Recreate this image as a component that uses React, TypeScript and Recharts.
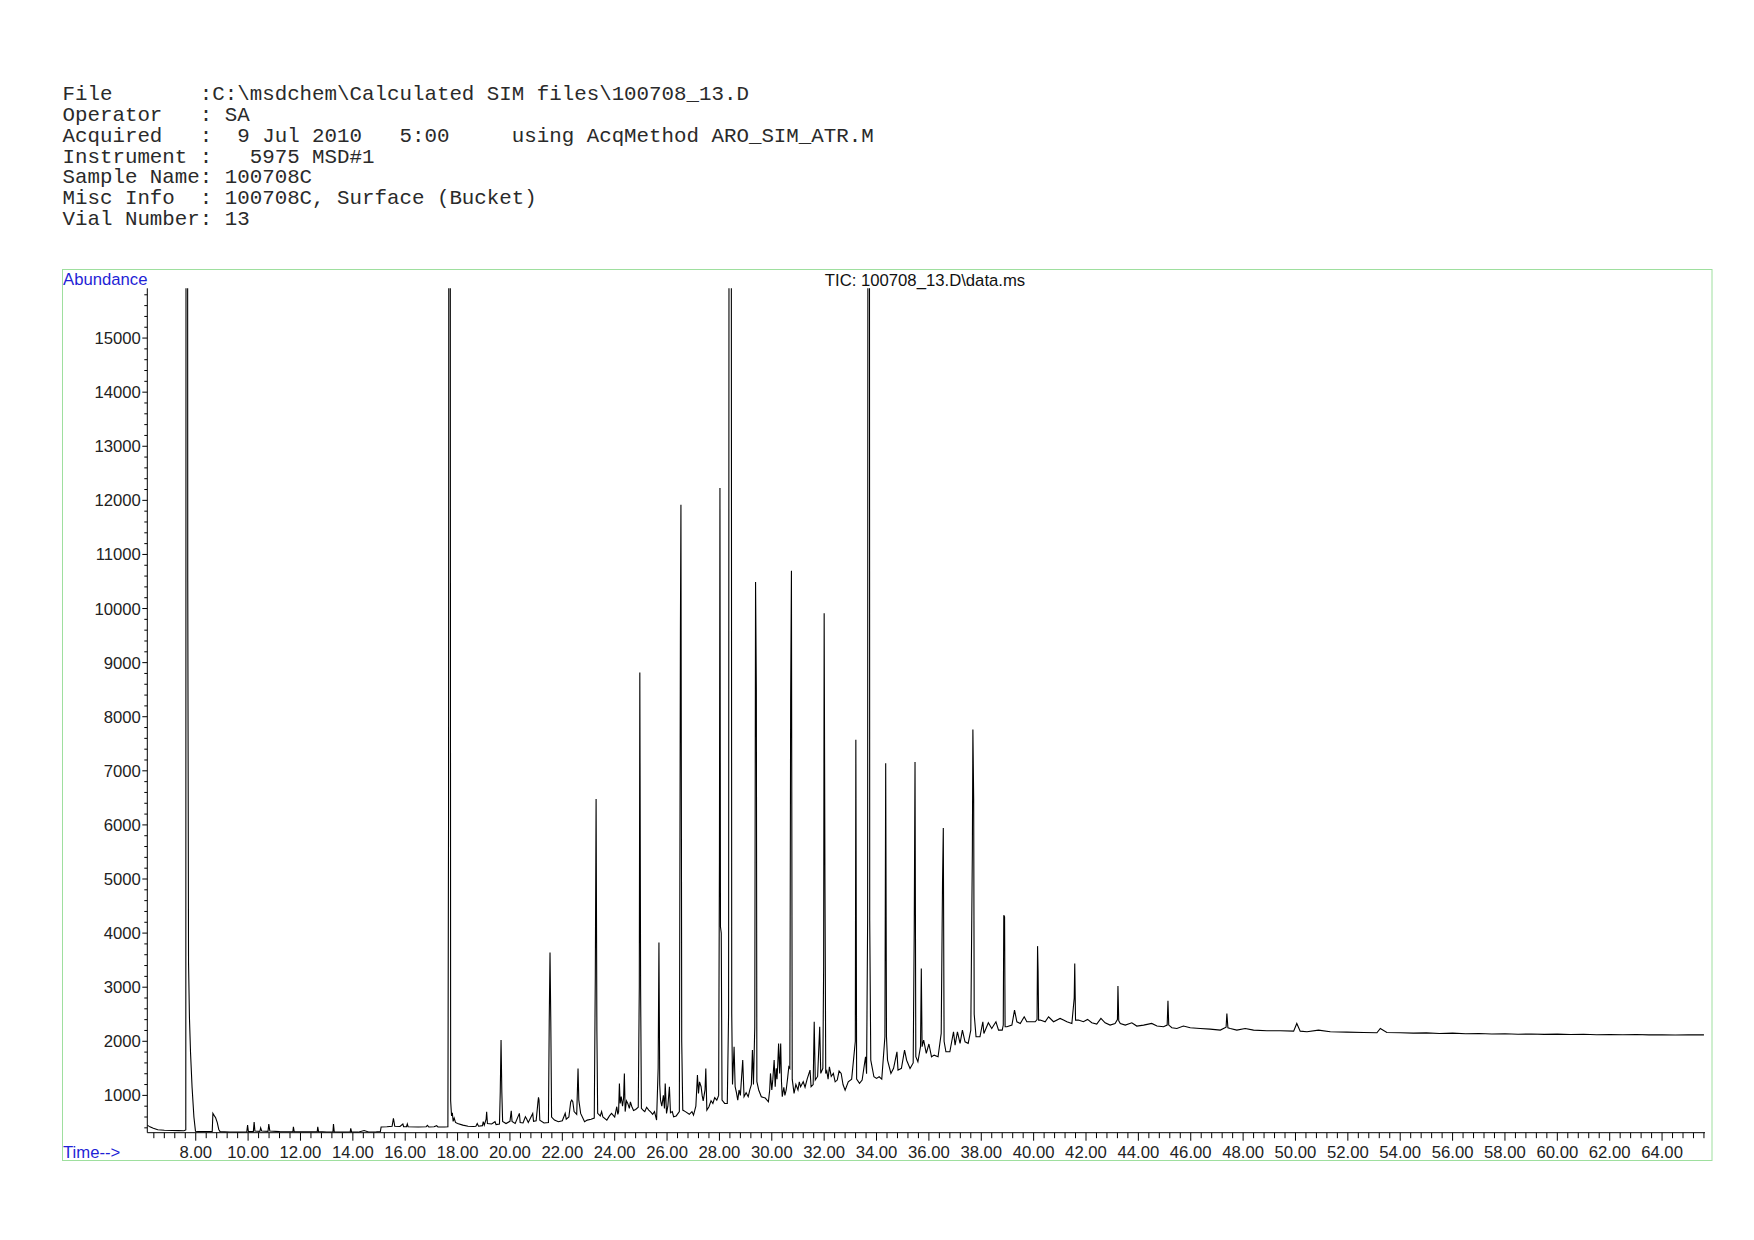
import { LineChart, Line, XAxis, YAxis } from 'recharts'

// header block printed above the chromatogram
const headerLines = [
  'File       :C:\\msdchem\\Calculated SIM files\\100708_13.D',
  'Operator   : SA',
  'Acquired   :  9 Jul 2010   5:00     using AcqMethod ARO_SIM_ATR.M',
  'Instrument :   5975 MSD#1',
  'Sample Name: 100708C',
  'Misc Info  : 100708C, Surface (Bucket)',
  'Vial Number: 13',
]

const chartTitle = 'TIC: 100708_13.D\\data.ms'

// tick labels
const timeLabels = [8, 10, 12, 14, 16, 18, 20, 22, 24, 26, 28, 30, 32, 34, 36, 38, 40, 42, 44, 46, 48, 50, 52, 54, 56, 58, 60, 62, 64]
const abundanceLabels = [1000, 2000, 3000, 4000, 5000, 6000, 7000, 8000, 9000, 10000, 11000, 12000, 13000, 14000, 15000]

// TIC trace, [time (min), abundance] in pieces
const ticSolvent: [number, number][] = [
  [6.15, 450], [6.25, 418], [6.38, 392], [6.55, 365], [6.8, 355], [7.1, 350], [7.35, 348], [7.55, 347],
  [7.62, 360], [7.635, 30000], [7.68, 30000], [7.695, 10500], [7.725, 3450], [7.76, 2430], [7.8, 1800],
  [7.86, 1150], [7.93, 600], [7.99, 335], [8.2, 330], [8.45, 331], [8.63, 334], [8.655, 667], [8.7, 630],
  [8.76, 585], [8.82, 500], [8.88, 370], [8.93, 330], [9.1, 326],
]

const ticEarly: [number, number][] = [
  [9.3, 322], [9.6, 320], [9.95, 325], [9.98, 450], [10.01, 330], [10.2, 330], [10.23, 505], [10.26, 340],
  [10.45, 335], [10.48, 400], [10.52, 340], [10.76, 335], [10.79, 470], [10.83, 340], [11.2, 330], [11.5, 328],
  [11.71, 330], [11.73, 418], [11.76, 330], [12.2, 325], [12.64, 330], [12.66, 418], [12.69, 330], [13.0, 322],
  [13.24, 325], [13.26, 470], [13.29, 325], [13.6, 320], [13.9, 325], [13.92, 390], [13.95, 325], [14.2, 320],
  [14.43, 350], [14.6, 322], [14.9, 325], [15.05, 330], [15.08, 415], [15.3, 420], [15.5, 430], [15.55, 577],
  [15.6, 430], [15.8, 425], [15.91, 470], [15.94, 420], [16.05, 420], [16.08, 470], [16.11, 420], [16.5, 415],
  [16.8, 420], [16.85, 445], [16.9, 415], [17.1, 420], [17.2, 440], [17.25, 418], [17.5, 415], [17.63, 420],
]

const ticMid: [number, number][] = [
  [17.655, 6200], [17.675, 30000], [17.71, 30000], [17.735, 900], [17.77, 620], [17.8, 680], [17.83, 520],
  [17.87, 580], [17.92, 500], [18.0, 480], [18.2, 450], [18.4, 430], [18.6, 425], [18.7, 430], [18.75, 480],
  [18.8, 430], [18.95, 440], [18.98, 513], [19.02, 450], [19.09, 560], [19.11, 697], [19.14, 480], [19.3, 470],
  [19.43, 513], [19.47, 460], [19.6, 470], [19.63, 1067], [19.66, 2022], [19.69, 1060], [19.72, 520],
  [19.85, 480], [20.0, 520], [20.05, 716], [20.08, 520], [20.2, 480], [20.36, 667], [20.39, 500], [20.5, 490],
  [20.59, 605], [20.63, 574], [20.7, 500], [20.87, 667], [20.9, 520], [21.0, 530], [21.07, 880], [21.09, 962],
  [21.11, 913], [21.14, 540], [21.3, 490], [21.47, 500], [21.5, 2361], [21.53, 3642], [21.56, 2360],
  [21.59, 600], [21.7, 543], [21.85, 513], [22.0, 530], [22.11, 667], [22.15, 560], [22.25, 600], [22.32, 880],
  [22.36, 913], [22.4, 882], [22.45, 700], [22.55, 650], [22.6, 1498], [22.63, 913], [22.7, 667], [22.85, 513],
  [22.95, 543], [23.1, 560], [23.22, 580],
]

const ticAromatics1: [number, number][] = [
  [23.26, 3223], [23.29, 6480], [23.32, 2200], [23.35, 667], [23.45, 620], [23.5, 700], [23.55, 600],
  [23.7, 543], [23.8, 620], [23.88, 667], [24.0, 600], [24.05, 720], [24.08, 790], [24.12, 650], [24.15, 700],
  [24.18, 1221], [24.21, 851], [24.25, 980], [24.3, 800], [24.34, 950], [24.37, 1406], [24.4, 700],
  [24.45, 900], [24.5, 851], [24.56, 760], [24.6, 880], [24.65, 800], [24.72, 720], [24.8, 740], [24.9, 780],
  [24.94, 3000], [24.96, 8817], [24.99, 3000], [25.02, 760], [25.1, 720], [25.15, 700], [25.22, 780],
  [25.3, 728], [25.38, 690], [25.45, 650], [25.52, 700], [25.6, 543], [25.66, 1500], [25.69, 3827],
  [25.72, 1200], [25.75, 913], [25.8, 800], [25.86, 1000], [25.9, 760], [25.93, 1221], [25.98, 667],
  [26.03, 800], [26.09, 1160], [26.13, 680], [26.2, 700], [26.25, 605], [26.35, 620], [26.47, 700],
  [26.51, 9600], [26.53, 11918], [26.56, 2000], [26.6, 728], [26.7, 700], [26.85, 650], [26.95, 700],
  [27.01, 636], [27.1, 800], [27.16, 1375], [27.2, 1036], [27.24, 1250], [27.3, 1160], [27.34, 1000],
  [27.38, 900], [27.45, 1100], [27.48, 1498], [27.52, 728], [27.6, 790], [27.68, 900], [27.75, 850],
  [27.82, 960], [27.9, 913], [27.97, 1000], [28.0, 5300], [28.02, 12230], [28.04, 4116], [28.07, 4000],
  [28.1, 913], [28.2, 851], [28.3, 851],
]

const ticAromatics2: [number, number][] = [
  [28.35, 2515], [28.38, 30000], [28.44, 30000], [28.47, 2515], [28.5, 1200], [28.56, 1899], [28.6, 1160],
  [28.65, 1050], [28.7, 913], [28.75, 1100], [28.8, 1000], [28.89, 1652], [28.94, 975], [29.02, 1050],
  [29.1, 975], [29.16, 1100], [29.22, 1200], [29.26, 1837], [29.3, 1200], [29.35, 2268], [29.38, 10490],
  [29.41, 8500], [29.43, 1252], [29.5, 1100], [29.6, 975], [29.75, 950], [29.87, 882], [29.92, 1100],
  [29.95, 1406], [30.0, 1100], [30.04, 1300], [30.09, 1652], [30.13, 1160], [30.17, 1500], [30.2, 1300],
  [30.23, 1600], [30.26, 1960], [30.3, 1406], [30.34, 1960], [30.37, 1250], [30.4, 975], [30.46, 1150],
  [30.5, 1000], [30.55, 1100], [30.6, 1300], [30.65, 1529], [30.69, 1500], [30.72, 8300], [30.75, 10700],
  [30.78, 1300], [30.85, 1036], [30.92, 1200], [31.0, 1100], [31.05, 1250], [31.1, 1160], [31.2, 1252],
  [31.27, 1150], [31.35, 1300], [31.46, 1467], [31.5, 1160], [31.58, 1200], [31.62, 2361], [31.66, 1283],
  [31.75, 1350], [31.83, 2268], [31.87, 1406], [31.95, 1500], [31.98, 3377], [32.0, 9912], [32.03, 5000],
  [32.06, 1406], [32.1, 1450], [32.15, 1300], [32.2, 1529], [32.27, 1350], [32.35, 1406], [32.42, 1250],
  [32.5, 1283], [32.57, 1450], [32.65, 1406], [32.72, 1200], [32.8, 1098], [32.92, 1252], [33.05, 1300],
]

const ticAromatics3: [number, number][] = [
  [33.19, 2000], [33.21, 7576], [33.24, 1300], [33.35, 1221], [33.45, 1283], [33.58, 1714], [33.62, 1400],
  [33.66, 4239], [33.68, 30000], [33.72, 30000], [33.74, 4239], [33.78, 1652], [33.9, 1344], [34.0, 1313],
  [34.1, 1344], [34.2, 1300], [34.32, 2083], [34.35, 7141], [34.38, 2083], [34.42, 1652], [34.55, 1406],
  [34.65, 1500], [34.78, 1806], [34.82, 1467], [34.95, 1500], [35.07, 1837], [35.15, 1650], [35.28, 1498],
  [35.4, 1600], [35.44, 4055], [35.47, 7162], [35.5, 1714], [35.58, 1621], [35.68, 1900], [35.71, 3346],
  [35.74, 1899], [35.8, 2022], [35.9, 1775], [36.0, 1950], [36.1, 1714], [36.2, 1744], [36.35, 1714],
  [36.47, 2145], [36.52, 4917], [36.55, 5942], [36.58, 2000], [36.65, 1806], [36.8, 1806], [36.94, 2176],
  [37.0, 1929], [37.09, 2176], [37.19, 1960], [37.28, 2207], [37.38, 1991], [37.5, 1960], [37.6, 2207],
  [37.66, 5533], [37.68, 7763], [37.71, 6488], [37.73, 2500], [37.8, 2083], [37.95, 2083],
]

const ticLate: [number, number][] = [
  [38.06, 2361], [38.1, 2145], [38.27, 2342], [38.4, 2237], [38.56, 2361], [38.66, 2207], [38.8, 2207],
  [38.84, 2300], [38.86, 4332], [38.89, 4300], [38.91, 2268], [38.98, 2268], [39.17, 2299], [39.27, 2576],
  [39.36, 2361], [39.49, 2330], [39.64, 2453], [39.74, 2361], [39.93, 2361], [40.06, 2361], [40.13, 2400],
  [40.15, 3759], [40.17, 3300], [40.19, 2392], [40.25, 2392], [40.44, 2361], [40.57, 2453], [40.76, 2361],
  [41.01, 2422], [41.14, 2392], [41.27, 2361], [41.46, 2330], [41.55, 2800], [41.57, 3439], [41.6, 2392],
  [41.71, 2392], [41.9, 2361], [42.06, 2404], [42.22, 2342], [42.41, 2318], [42.57, 2422], [42.73, 2342],
  [42.92, 2299], [43.11, 2330], [43.2, 2400], [43.22, 3020], [43.25, 2380], [43.31, 2330], [43.5, 2299],
  [43.75, 2342], [43.94, 2281], [44.2, 2299], [44.51, 2330], [44.71, 2281], [44.96, 2268], [45.1, 2300],
  [45.13, 2749], [45.16, 2300], [45.28, 2250], [45.47, 2237], [45.72, 2281], [45.98, 2250], [46.36, 2237],
  [46.74, 2225],
]

const ticTail: [number, number][] = [
  [47.13, 2207], [47.35, 2260], [47.38, 2515], [47.42, 2250], [47.51, 2237], [47.76, 2207], [48.08, 2237],
  [48.4, 2207], [48.91, 2194], [49.42, 2194], [49.93, 2188], [50.05, 2330], [50.18, 2188], [50.44, 2176],
  [50.88, 2207], [51.33, 2176], [51.96, 2170], [52.6, 2163], [53.11, 2157], [53.24, 2237], [53.49, 2163],
  [54.0, 2157], [54.5, 2150], [55.0, 2155], [55.5, 2145], [56.0, 2150], [56.5, 2140], [57.0, 2145],
  [57.5, 2135], [58.0, 2140], [58.5, 2130], [59.0, 2135], [59.5, 2128], [60.0, 2132], [60.5, 2125],
  [61.0, 2130], [61.5, 2122], [62.0, 2126], [62.5, 2120], [63.0, 2124], [63.5, 2118], [64.0, 2122],
  [64.5, 2116], [65.0, 2120], [65.6, 2118],
]

const ticData = [
  ...ticSolvent, ...ticEarly, ...ticMid, ...ticAromatics1,
  ...ticAromatics2, ...ticAromatics3, ...ticLate, ...ticTail,
].map(([t, v]) => ({ t, v }))

const X_DOMAIN: [number, number] = [6.15, 65.64]
const Y_DOMAIN: [number, number] = [310, 15920]

// minor ticks every 0.4 min and every 200 counts
const timeTicks: number[] = []
for (let i = 16; i <= 164; i++) timeTicks.push(Math.round(i * 4) / 10)
const abundanceTicks: number[] = []
for (let i = 2; i <= 79; i++) abundanceTicks.push(i * 200)

const LABEL_FONT = '"Liberation Sans", Arial, sans-serif'
const LABEL_SIZE = 16.7
const BLUE = '#1f1fd6'

function TimeTick(props: any) {
  const { x, y, payload } = props
  const major = timeLabels.includes(payload.value)
  return (
    <g>
      <line x1={x} x2={x} y1={y} y2={y + (major ? 8 : 5.5)} stroke="#000" strokeWidth={1} />
      {major && (
        <text x={x} y={y + 25.5} textAnchor="middle" fontSize={LABEL_SIZE} fontFamily={LABEL_FONT} fill="#222">
          {payload.value.toFixed(2)}
        </text>
      )}
    </g>
  )
}

function AbundanceTick(props: any) {
  const { x, y, payload } = props
  const major = abundanceLabels.includes(payload.value)
  return (
    <g>
      <line x1={x - (major ? 5 : 3)} x2={x} y1={y} y2={y} stroke="#000" strokeWidth={1} />
      {major && (
        <text x={x - 6.5} y={y + 6} textAnchor="end" fontSize={LABEL_SIZE} fontFamily={LABEL_FONT} fill="#222">
          {payload.value}
        </text>
      )}
    </g>
  )
}

export default function App() {
  return (
    <div style={{ position: 'absolute', left: 0, top: 0, width: 1754, height: 1240, background: '#fff' }}>
      <svg width={1754} height={1240} style={{ position: 'absolute', left: 0, top: 0 }}>
        {headerLines.map((line, i) => (
          <text
            key={i}
            x={62.5}
            y={100 + i * 20.85}
            fontSize={20.8}
            fontFamily='"Liberation Mono", "Courier New", monospace'
            fill="#2a2a2a"
            style={{ whiteSpace: 'pre' }}
          >
            {line}
          </text>
        ))}
        <rect x={62.5} y={269.5} width={1649.5} height={891} fill="none" stroke="#9edf9e" strokeWidth={1} />
        <text x={63} y={284.5} fontSize={LABEL_SIZE} fontFamily={LABEL_FONT} fill={BLUE}>Abundance</text>
        <text x={925} y={285.5} textAnchor="middle" fontSize={LABEL_SIZE} fontFamily={LABEL_FONT} fill="#111">{chartTitle}</text>
        <text x={63} y={1158} fontSize={LABEL_SIZE} fontFamily={LABEL_FONT} fill={BLUE}>Time--&gt;</text>
      </svg>
      <div style={{ position: 'absolute', left: 0, top: 0 }}>
        <LineChart
          width={1754}
          height={1240}
          data={ticData}
          margin={{ top: 288.3, right: 49, bottom: 77.3, left: 97.3 }}
        >
          <XAxis
            dataKey="t"
            type="number"
            domain={X_DOMAIN}
            allowDataOverflow
            ticks={timeTicks}
            interval={0}
            tickSize={0}
            tickMargin={0}
            tick={(p: any) => <TimeTick {...p} />}
            axisLine={{ stroke: '#000', strokeWidth: 1 }}
            height={30}
          />
          <YAxis
            type="number"
            domain={Y_DOMAIN}
            allowDataOverflow
            ticks={abundanceTicks}
            interval={0}
            tickSize={0}
            tickMargin={0}
            tick={(p: any) => <AbundanceTick {...p} />}
            axisLine={{ stroke: '#000', strokeWidth: 1 }}
            width={50}
          />
          <Line
            dataKey="v"
            type="linear"
            stroke="#000"
            strokeWidth={1.1}
            dot={false}
            isAnimationActive={false}
          />
        </LineChart>
      </div>
    </div>
  )
}
